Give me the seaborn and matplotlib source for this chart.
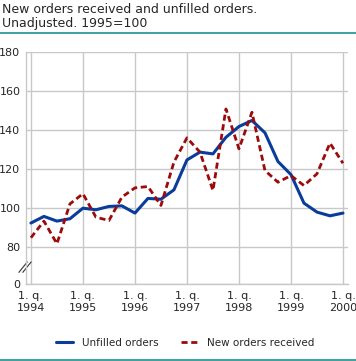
import pandas as pd
import numpy as np
import seaborn as sns
import matplotlib.pyplot as plt
from matplotlib.lines import Line2D

# quarterly index, 1. q. 1994 - 1. q. 2000 (1995=100)
quarters = list(range(25))
unfilled = [92.2, 95.6, 93.2, 94.4, 99.8, 99.0, 100.7, 101.0,
            97.3, 104.8, 104.4, 109.2, 124.5, 128.5, 127.6, 136.1,
            141.6, 144.7, 138.4, 123.7, 117.0, 102.4, 97.8, 95.9, 97.3]
new_orders = [84.7, 93.2, 81.6, 102.0, 107.2, 95.2, 93.5, 105.5,
              110.2, 110.9, 101.2, 123.4, 135.8, 128.5, 108.9, 150.6,
              130.2, 148.9, 119.1, 113.1, 116.5, 111.4, 117.4, 133.1, 122.8]
year_labels = ['1. q.\n1994', '1. q.\n1995', '1. q.\n1996', '1. q.\n1997',
               '1. q.\n1998', '1. q.\n1999', '1. q.\n2000']
ytick_vals = [80, 100, 120, 140, 160, 180]

blue = '#0a3c9b'
red = '#9c0b0b'
teal = '#1a9090'

df = pd.DataFrame({'q': quarters, 'Unfilled orders': unfilled,
                   'New orders received': new_orders})

sns.set_style('white')
plt.rcParams['font.family'] = ['DejaVu Sans']

fig = plt.figure(figsize=(3.56, 3.61), dpi=100)
ax = fig.add_axes([0.073, 0.2133, 0.905, 0.644])

sns.lineplot(data=df, x='q', y='Unfilled orders', color=blue, linewidth=2.2, ax=ax)
sns.lineplot(data=df, x='q', y='New orders received', color=red, linewidth=2.0,
             dashes=False, ax=ax)
ax.lines[1].set_dashes((2.2, 1.3))

# broken axis: bottom of the axis stands for 0
y0 = 61
ax.set_ylim(y0, 180)
ax.set_xlim(-0.38, 24.4)
ax.set_yticks([y0] + ytick_vals)
ax.set_yticklabels(['0'] + [str(v) for v in ytick_vals])
ax.set_xticks(range(0, 25, 4))
ax.set_xticklabels(year_labels)
ax.set_xticks(range(25), minor=True)
ax.set_xlabel('')
ax.set_ylabel('')

ax.grid(True, color='#c8c8c8', linewidth=1)
ax.set_axisbelow(True)
for s in ['top', 'right']:
    ax.spines[s].set_visible(False)
for s in ['left', 'bottom']:
    ax.spines[s].set_color('#c8c8c8')
    ax.spines[s].set_linewidth(1)
ax.tick_params(axis='y', length=0, labelsize=8, pad=4)
ax.tick_params(axis='x', which='both', direction='in', length=4, color='#c8c8c8',
               labelsize=8, pad=5)

# break marks
for dx in [0, 0.012]:
    ax.plot([-0.022 + dx, 0.004 + dx], [0.05, 0.095], transform=ax.transAxes,
            color='#333333', linewidth=0.8, clip_on=False)

fig.text(0.006, 0.993, 'New orders received and unfilled orders.\nUnadjusted. 1995=100',
         fontsize=9, va='top', ha='left', linespacing=1.15)
fig.add_artist(Line2D([0, 1], [0.908, 0.908], color=teal, linewidth=1.2))
fig.add_artist(Line2D([0, 1], [0.003, 0.003], color=teal, linewidth=1.2))

handles = [Line2D([], [], color=blue, linewidth=2.2),
           Line2D([], [], color=red, linewidth=2.0, dashes=(2.2, 1.3))]
fig.legend(handles, ['Unfilled orders', 'New orders received'], loc='center',
           bbox_to_anchor=(0.52, 0.05), ncol=2, frameon=False, fontsize=7.5,
           handlelength=1.7, columnspacing=2.2)

fig.savefig('out.png', dpi=100)
